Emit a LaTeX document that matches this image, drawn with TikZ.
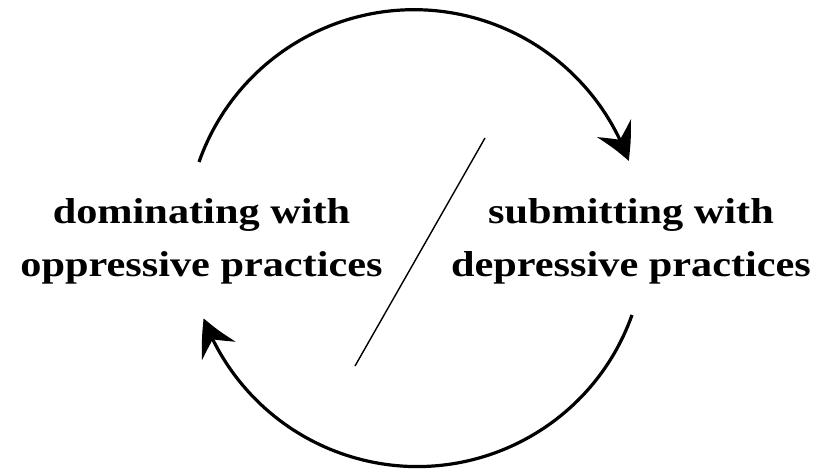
\documentclass[tikz,border=0pt]{standalone}
\usepackage{fontspec}
\setmainfont{Liberation Serif}
\usetikzlibrary{arrows.meta,bending}
\begin{document}
\begin{tikzpicture}[x=1pt,y=-1pt,
  cyclearc/.style={line width=3.2pt, -{Stealth[length=36pt,width=38pt,inset=13pt,bend]}},
  label/.style={font=\fontsize{36}{53}\selectfont\bfseries, align=center,
    inner sep=0pt, xscale=1.175, transform shape}]
  \useasboundingbox (0,0) rectangle (819,472);
  % upper arc: dominating -> submitting (y axis points down, so angles are mirrored)
  \coordinate (upstart) at (199,162);
  \draw[cyclearc] (upstart) arc[start angle=-160.6, end angle=-19.7, radius=228];
  % lower arc: submitting -> dominating
  \coordinate (lowstart) at (632,315);
  \draw[cyclearc] (lowstart) arc[start angle=19.6, end angle=159.5, radius=228];
  \node[label] (dom) at (201.5,241.5) {dominating with\\oppressive practices};
  \node[label] (sub) at (631,241.5) {submitting with\\depressive practices};
  \coordinate (slashtop) at (485,138);
  \coordinate (slashbot) at (355,366);
  \draw[line width=1.4pt] (slashtop) -- (slashbot);
\end{tikzpicture}
\end{document}
